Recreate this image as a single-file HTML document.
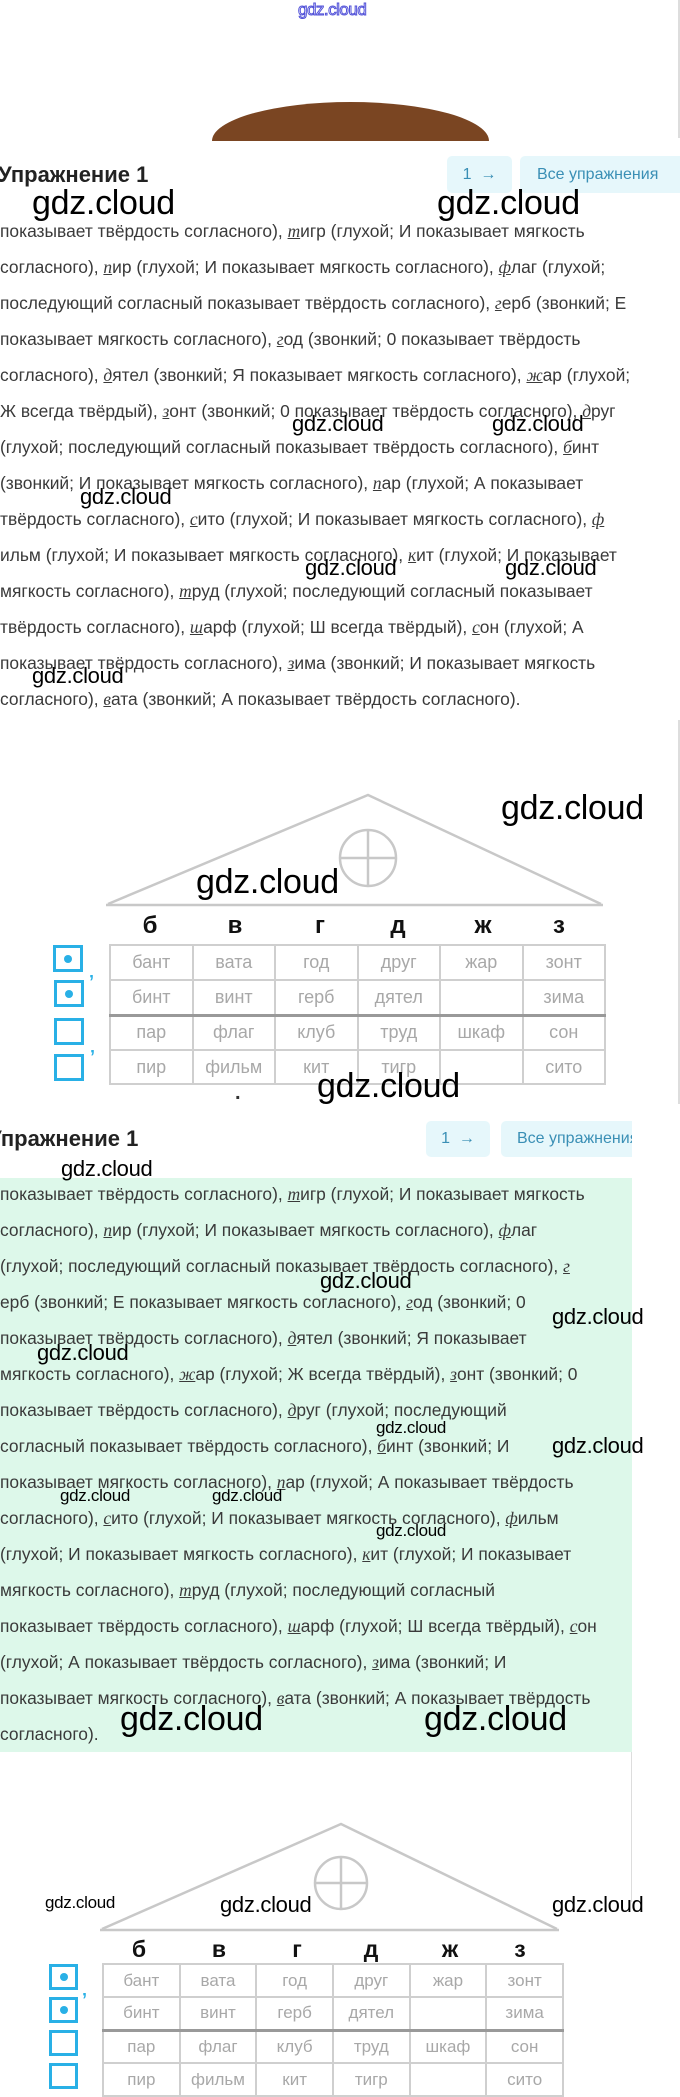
<!DOCTYPE html>
<html><head><meta charset="utf-8">
<style>
*{margin:0;padding:0;box-sizing:border-box}
body{width:680px;height:2067px;position:relative;background:#fff;overflow:hidden;font-family:"Liberation Sans","Noto Sans CJK SC",sans-serif;color:#333}
.a{position:absolute;white-space:nowrap}
.l{position:absolute;left:0;font-size:17.4px;line-height:20px;white-space:nowrap;color:#3a3a3a}
.l u{font-family:"Liberation Serif",serif;font-style:italic;text-decoration:underline}
.wm{position:absolute;white-space:nowrap;color:#000;font-family:"Liberation Sans",sans-serif;letter-spacing:-0.3px}
.btn{position:absolute;background:#e6f7fb;border-radius:5px;color:#3a8fb5;font-size:16px;display:flex;align-items:center;justify-content:center}
.h{position:absolute;font-weight:bold;font-size:22px;color:#222;white-space:nowrap}
table{position:absolute;border-collapse:collapse;table-layout:fixed}
td{border:2px solid #cfcfcf;color:#a8a8a8;text-align:center;padding:0}
.sq{position:absolute;border:3px solid #29b0e6}
.sq.d::after{content:"";position:absolute;width:8px;height:8px;border-radius:50%;background:#29b0e6;left:50%;top:50%;transform:translate(-50%,-50%)}
.ap{position:absolute;color:#29b0e6;font-weight:bold;font-size:18px}
.let{position:absolute;font-weight:bold;font-size:24px;color:#111;transform:translateX(-50%)}
</style></head><body>

<div class="a" style="left:298px;top:0px;font-size:17px;color:#fff;-webkit-text-stroke:1px #5050d8;letter-spacing:-0.5px">gdz.cloud</div>
<div style="position:absolute;left:212px;top:102px;width:277px;height:78px;border-radius:50%;background:#7a4522;clip-path:inset(0 0 39px 0)"></div>
<div style="position:absolute;left:678px;top:0;width:2px;height:138px;background:#ddd"></div>

<div class="h" style="left:-2px;top:162px">Упражнение 1</div>
<div class="btn" style="left:447px;top:156px;width:65px;height:37px">1 &nbsp;→</div>
<div class="btn" style="left:520px;top:156px;width:170px;height:37px;justify-content:flex-start;padding-left:17px">Все упражнения</div>

<div class="l" style="top:221px">показывает твёрдость согласного), <u>т</u>игр (глухой; И показывает мягкость</div>
<div class="l" style="top:257px">согласного), <u>п</u>ир (глухой; И показывает мягкость согласного), <u>ф</u>лаг (глухой;</div>
<div class="l" style="top:293px">последующий согласный показывает твёрдость согласного), <u>г</u>ерб (звонкий; Е</div>
<div class="l" style="top:329px">показывает мягкость согласного), <u>г</u>од (звонкий; 0 показывает твёрдость</div>
<div class="l" style="top:365px">согласного), <u>д</u>ятел (звонкий; Я показывает мягкость согласного), <u>ж</u>ар (глухой;</div>
<div class="l" style="top:401px">Ж всегда твёрдый), <u>з</u>онт (звонкий; 0 показывает твёрдость согласного), <u>д</u>руг</div>
<div class="l" style="top:437px">(глухой; последующий согласный показывает твёрдость согласного), <u>б</u>инт</div>
<div class="l" style="top:473px">(звонкий; И показывает мягкость согласного), <u>п</u>ар (глухой; А показывает</div>
<div class="l" style="top:509px">твёрдость согласного), <u>с</u>ито (глухой; И показывает мягкость согласного), <u>ф</u></div>
<div class="l" style="top:545px">ильм (глухой; И показывает мягкость согласного), <u>к</u>ит (глухой; И показывает</div>
<div class="l" style="top:581px">мягкость согласного), <u>т</u>руд (глухой; последующий согласный показывает</div>
<div class="l" style="top:617px">твёрдость согласного), <u>ш</u>арф (глухой; Ш всегда твёрдый), <u>с</u>он (глухой; А</div>
<div class="l" style="top:653px">показывает твёрдость согласного), <u>з</u>има (звонкий; И показывает мягкость</div>
<div class="l" style="top:689px">согласного), <u>в</u>ата (звонкий; А показывает твёрдость согласного).</div>

<div class="wm" style="left:32px;top:184px;font-size:34px">gdz.cloud</div>
<div class="wm" style="left:437px;top:184px;font-size:34px">gdz.cloud</div>
<div class="wm" style="left:292px;top:411px;font-size:22px">gdz.cloud</div>
<div class="wm" style="left:492px;top:411px;font-size:22px">gdz.cloud</div>
<div class="wm" style="left:80px;top:484px;font-size:22px">gdz.cloud</div>
<div class="wm" style="left:305px;top:555px;font-size:22px">gdz.cloud</div>
<div class="wm" style="left:505px;top:555px;font-size:22px">gdz.cloud</div>
<div class="wm" style="left:32px;top:663px;font-size:22px">gdz.cloud</div>

<!-- house 1 -->
<div style="position:absolute;left:678px;top:720px;width:2px;height:384px;background:#ddd"></div>
<svg class="a" style="left:0;top:0" width="680" height="2067">
<g fill="none" stroke="#c8c8c8" stroke-width="2.5">
<polyline points="108,904 368,795 601,904"/><line x1="106" y1="905" x2="603" y2="905"/>
<circle cx="368" cy="858" r="28"/><line x1="368" y1="830" x2="368" y2="886"/><line x1="340" y1="858" x2="396" y2="858"/>
<polyline points="102,1929 341,1824 557,1929"/><line x1="100" y1="1930" x2="559" y2="1930"/>
<circle cx="341" cy="1883" r="26"/><line x1="341" y1="1857" x2="341" y2="1909"/><line x1="315" y1="1883" x2="367" y2="1883"/>
</g></svg>
<div class="let" style="left:150px;top:912px">б</div><div class="let" style="left:235px;top:912px">в</div><div class="let" style="left:320px;top:912px">г</div><div class="let" style="left:398px;top:912px">д</div><div class="let" style="left:483px;top:912px">ж</div><div class="let" style="left:559px;top:912px">з</div>
<table style="left:109px;top:944px;width:497px;font-size:18px">
<tr style="height:35px"><td>бант</td><td>вата</td><td>год</td><td>друг</td><td>жар</td><td>зонт</td></tr>
<tr style="height:35px;border-bottom:3px solid #999"><td>бинт</td><td>винт</td><td>герб</td><td>дятел</td><td></td><td>зима</td></tr>
<tr style="height:35px"><td>пар</td><td>флаг</td><td>клуб</td><td>труд</td><td>шкаф</td><td>сон</td></tr>
<tr style="height:34px"><td>пир</td><td>фильм</td><td>кит</td><td>тигр</td><td></td><td>сито</td></tr>
</table>
<div class="sq d" style="left:53px;top:945px;width:30px;height:27px"></div>
<div class="sq d" style="left:54px;top:980px;width:30px;height:27px"></div>
<div class="sq" style="left:54px;top:1018px;width:30px;height:27px"></div>
<div class="sq" style="left:54px;top:1054px;width:30px;height:27px"></div>
<div class="ap" style="left:89px;top:972px">’</div><div class="ap" style="left:90px;top:1047px">’</div>
<div class="a" style="left:235px;top:1082px;font-size:20px;font-weight:bold">.</div>
<div class="wm" style="left:501px;top:789px;font-size:34px">gdz.cloud</div>
<div class="wm" style="left:196px;top:863px;font-size:34px">gdz.cloud</div>
<div class="wm" style="left:317px;top:1067px;font-size:34px">gdz.cloud</div>

<!-- section 2 -->
<div class="h" style="left:-12px;top:1126px">Упражнение 1</div>
<div class="btn" style="left:426px;top:1121px;width:64px;height:36px">1 &nbsp;→</div>
<div style="position:absolute;left:501px;top:1121px;width:131px;height:36px;overflow:hidden"><div class="btn" style="left:0;top:0;width:170px;height:36px;justify-content:flex-start;padding-left:16px">Все упражнения</div></div>
<div style="position:absolute;left:0;top:1178px;width:632px;height:574px;background:#ddf8ea"></div>
<div style="position:absolute;left:631px;top:1752px;width:1px;height:150px;background:#ddd"></div>

<div class="l" style="top:1184px">показывает твёрдость согласного), <u>т</u>игр (глухой; И показывает мягкость</div>
<div class="l" style="top:1220px">согласного), <u>п</u>ир (глухой; И показывает мягкость согласного), <u>ф</u>лаг</div>
<div class="l" style="top:1256px">(глухой; последующий согласный показывает твёрдость согласного), <u>г</u></div>
<div class="l" style="top:1292px">ерб (звонкий; Е показывает мягкость согласного), <u>г</u>од (звонкий; 0</div>
<div class="l" style="top:1328px">показывает твёрдость согласного), <u>д</u>ятел (звонкий; Я показывает</div>
<div class="l" style="top:1364px">мягкость согласного), <u>ж</u>ар (глухой; Ж всегда твёрдый), <u>з</u>онт (звонкий; 0</div>
<div class="l" style="top:1400px">показывает твёрдость согласного), <u>д</u>руг (глухой; последующий</div>
<div class="l" style="top:1436px">согласный показывает твёрдость согласного), <u>б</u>инт (звонкий; И</div>
<div class="l" style="top:1472px">показывает мягкость согласного), <u>п</u>ар (глухой; А показывает твёрдость</div>
<div class="l" style="top:1508px">согласного), <u>с</u>ито (глухой; И показывает мягкость согласного), <u>ф</u>ильм</div>
<div class="l" style="top:1544px">(глухой; И показывает мягкость согласного), <u>к</u>ит (глухой; И показывает</div>
<div class="l" style="top:1580px">мягкость согласного), <u>т</u>руд (глухой; последующий согласный</div>
<div class="l" style="top:1616px">показывает твёрдость согласного), <u>ш</u>арф (глухой; Ш всегда твёрдый), <u>с</u>он</div>
<div class="l" style="top:1652px">(глухой; А показывает твёрдость согласного), <u>з</u>има (звонкий; И</div>
<div class="l" style="top:1688px">показывает мягкость согласного), <u>в</u>ата (звонкий; А показывает твёрдость</div>
<div class="l" style="top:1724px">согласного).</div>

<div class="wm" style="left:61px;top:1156px;font-size:22px">gdz.cloud</div>
<div class="wm" style="left:320px;top:1268px;font-size:22px">gdz.cloud</div>
<div class="wm" style="left:552px;top:1304px;font-size:22px">gdz.cloud</div>
<div class="wm" style="left:37px;top:1340px;font-size:22px">gdz.cloud</div>
<div class="wm" style="left:376px;top:1418px;font-size:17px">gdz.cloud</div>
<div class="wm" style="left:552px;top:1433px;font-size:22px">gdz.cloud</div>
<div class="wm" style="left:60px;top:1486px;font-size:17px">gdz.cloud</div>
<div class="wm" style="left:212px;top:1486px;font-size:17px">gdz.cloud</div>
<div class="wm" style="left:376px;top:1521px;font-size:17px">gdz.cloud</div>
<div class="wm" style="left:120px;top:1700px;font-size:34px">gdz.cloud</div>
<div class="wm" style="left:424px;top:1700px;font-size:34px">gdz.cloud</div>

<!-- house 2 -->
<div class="let" style="left:139px;top:1936px;font-size:23px">б</div><div class="let" style="left:219px;top:1936px;font-size:23px">в</div><div class="let" style="left:297px;top:1936px;font-size:23px">г</div><div class="let" style="left:371px;top:1936px;font-size:23px">д</div><div class="let" style="left:450px;top:1936px;font-size:23px">ж</div><div class="let" style="left:520px;top:1936px;font-size:23px">з</div>
<table style="left:102px;top:1963px;width:462px;font-size:17px">
<tr style="height:33px"><td>бант</td><td>вата</td><td>год</td><td>друг</td><td>жар</td><td>зонт</td></tr>
<tr style="height:33px;border-bottom:3px solid #999"><td>бинт</td><td>винт</td><td>герб</td><td>дятел</td><td></td><td>зима</td></tr>
<tr style="height:33px"><td>пар</td><td>флаг</td><td>клуб</td><td>труд</td><td>шкаф</td><td>сон</td></tr>
<tr style="height:33px"><td>пир</td><td>фильм</td><td>кит</td><td>тигр</td><td></td><td>сито</td></tr>
</table>
<div class="sq d" style="left:49px;top:1964px;width:29px;height:26px"></div>
<div class="sq d" style="left:49px;top:1997px;width:29px;height:26px"></div>
<div class="sq" style="left:49px;top:2030px;width:29px;height:26px"></div>
<div class="sq" style="left:49px;top:2063px;width:29px;height:26px"></div>
<div class="ap" style="left:82px;top:1990px">’</div>
<div class="wm" style="left:45px;top:1893px;font-size:17px">gdz.cloud</div>
<div class="wm" style="left:220px;top:1892px;font-size:22px">gdz.cloud</div>
<div class="wm" style="left:552px;top:1892px;font-size:22px">gdz.cloud</div>
</body></html>
